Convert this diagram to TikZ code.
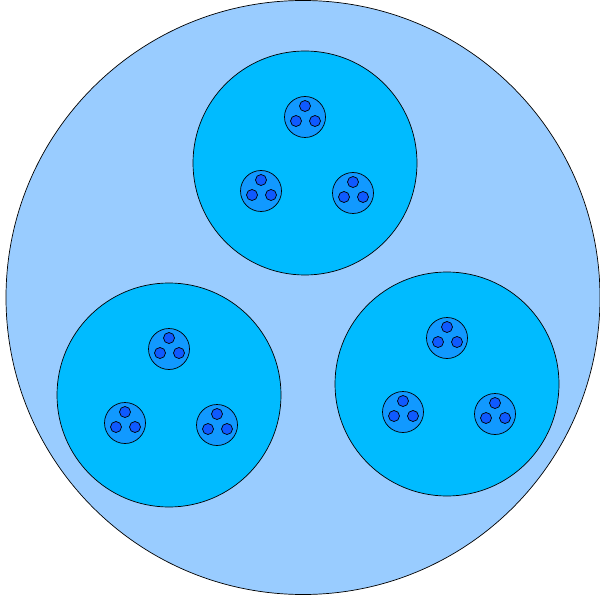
\documentclass[tikz,border=0pt]{standalone}
\usepackage{tikz}
\usetikzlibrary{positioning,calc}
\definecolor{outerblue}{HTML}{99CCFF}
\definecolor{groupblue}{HTML}{00BBFF}
\definecolor{cellblue}{HTML}{1199FF}
\definecolor{dotblue}{HTML}{0F5AFF}

\begin{document}
\begin{tikzpicture}[x=1pt,y=-1pt,
  ring/.style={circle, draw=black, line width=0.7pt, inner sep=0pt},
  outer/.style={ring, fill=outerblue, minimum size=594pt},
  group/.style={ring, fill=groupblue, minimum size=224pt},
  cell/.style={ring, fill=cellblue, minimum size=41pt},
  dot/.style={ring, fill=dotblue, minimum size=11pt}
]
\useasboundingbox (0,0) rectangle (599,601);
\node[outer] (world) at (303,297.5) {};
% three groups, each with three cells of three dots
\foreach \g/\gx/\gy in {a/305/163, b/169/395, c/447/384} {
  \node[group] (\g) at (\gx,\gy) {};
  \foreach \k/\dx/\dy in {1/0/-46, 2/-44/28, 3/48/30} {
    \node[cell] (\g\k) at ($(\g)+(\dx,\dy)$) {};
    \foreach \d/\ex/\ey in {1/0/-11, 2/-9/4, 3/10/4}
      \node[dot] (\g\k\d) at ($(\g\k)+(\ex,\ey)$) {};
  }
}
\end{tikzpicture}
\end{document}
